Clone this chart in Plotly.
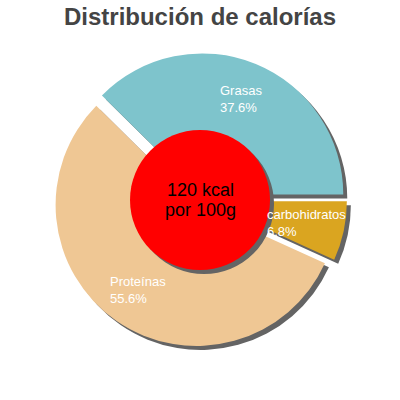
import math
import plotly.graph_objects as go

# datos
nutrientes = ["Grasas", "carbohidratos", "Proteínas"]
porcentajes = [37.6, 6.8, 55.6]
colores = ["#7ec4cc", "#daa520", "#efc794"]
energia = "120 kcal"
porcion = "por 100g"
titulo = "Distribución de calorías"

W = H = 400
CX, CY = 200, 200          # centro de la tarta, px
R = 141                    # radio de la tarta, px
PULL_PX = 6                # separación de cada porción
R_CENTRO = 70              # círculo rojo central
SOMBRA = 4                 # desplazamiento de la sombra
R_ETIQ = 103               # radio de las etiquetas

pull = PULL_PX / R
total = sum(porcentajes)
# la primera porción (Grasas) termina justo a las 3 en punto
rotacion = 90 - 360 * porcentajes[0] / total


def dominio(cx, cy, half):
    return dict(x=[(cx - half) / W, (cx + half) / W],
                y=[1 - (cy + half) / H, 1 - (cy - half) / H])


def tarta(colors, cx, cy):
    return go.Pie(
        labels=nutrientes, values=porcentajes, sort=False,
        direction="clockwise", rotation=rotacion,
        pull=[pull] * len(porcentajes),
        marker=dict(colors=colors, line=dict(width=0)),
        textinfo="none", hoverinfo="skip", showlegend=False,
        domain=dominio(cx, cy, R * (1 + pull)),
    )


def disco(color, cx, cy):
    return go.Pie(
        labels=[energia], values=[1], sort=False,
        marker=dict(colors=[color], line=dict(width=0)),
        textinfo="none", hoverinfo="skip", showlegend=False,
        domain=dominio(cx, cy, R_CENTRO),
    )


fig = go.Figure()
gris = "#646464"
fig.add_trace(tarta([gris] * len(porcentajes), CX + SOMBRA, CY + SOMBRA))
fig.add_trace(tarta(colores, CX, CY))
fig.add_trace(disco(gris, CX + SOMBRA, CY + SOMBRA))
fig.add_trace(disco("#ff0000", CX, CY))

# etiquetas en la bisectriz de cada porción
acum = 0
for nombre, p in zip(nutrientes, porcentajes):
    medio = math.radians(rotacion + 360 * (acum + p / 2) / total)
    acum += p
    r = R_ETIQ + PULL_PX
    x = CX + r * math.sin(medio)
    y = CY - r * math.cos(medio)
    fig.add_annotation(
        x=x / W, y=1 - y / H, xref="paper", yref="paper",
        text=f"{nombre}<br>{p:.1f}%", showarrow=False,
        xanchor="center", yanchor="middle", align="left",
        font=dict(family="Liberation Sans, Arial", size=13, color="white"),
    )

fig.add_annotation(x=CX / W, y=1 - CY / H, xref="paper", yref="paper",
                   text=energia, showarrow=False, yshift=10,
                   font=dict(family="Liberation Sans, Arial", size=18, color="black"))
fig.add_annotation(x=CX / W, y=1 - CY / H, xref="paper", yref="paper",
                   text=porcion, showarrow=False, yshift=-10,
                   font=dict(family="Liberation Sans, Arial", size=18, color="black"))

fig.update_layout(
    width=W, height=H,
    margin=dict(l=0, r=0, t=0, b=0),
    paper_bgcolor="white", plot_bgcolor="white",
    title=dict(text=f"<b>{titulo}</b>", x=0.5, xanchor="center",
               y=1 - 17 / H, yanchor="middle",
               font=dict(family="Liberation Sans, Arial", size=24, color="#444444")),
)

# sin el margen por defecto del <body>
fig.write_html("out.html", config={"displayModeBar": False},
               post_script="document.body.style.margin='0';")
